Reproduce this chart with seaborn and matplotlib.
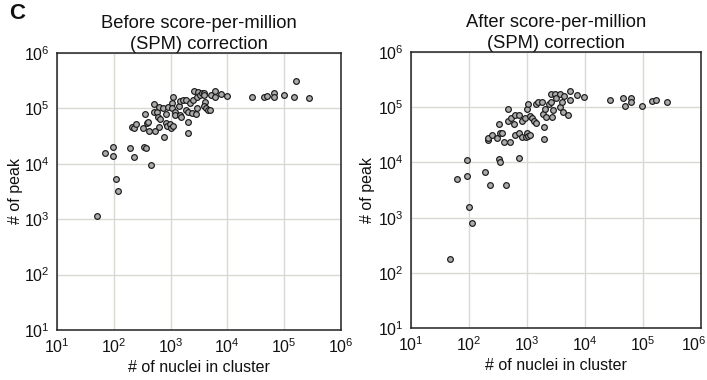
import matplotlib
matplotlib.use("Agg")
import matplotlib.pyplot as plt
from matplotlib.transforms import ScaledTranslation
import seaborn as sns
import pandas as pd

# ---------------- data ----------------
before_nuclei = [50, 108, 119, 69, 98, 98, 190, 229, 339, 363, 447, 209, 224, 251, 324,
                 380, 398, 355, 417, 501, 525, 501, 575, 631, 631, 776, 741, 589, 646,
                 832, 832, 871, 977, 1023, 1122, 912, 1072, 1122, 1072, 1202, 1175, 1380,
                 1479, 1514, 1479, 1622, 1905, 1995, 1995, 1862, 2042, 2239, 2344, 2630,
                 2512, 2818, 2884, 2951, 3090, 3311, 3548, 3802, 3890, 4074, 3890, 4169,
                 4467, 5012, 5129, 6026, 6026, 7586, 9772, 27540, 43650, 48980, 66070,
                 66070, 100000, 147900, 162200, 275400]
before_peaks = [1120, 5400, 3160, 15800, 20000, 13600, 19300, 13200, 20400, 19100, 9660,
                45700, 44200, 51300, 44200, 55000, 57500, 79400, 39800, 117500, 39800,
                87100, 87100, 45700, 104700, 30200, 100000, 69200, 63100, 77600, 53700,
                49000, 51300, 44700, 49000, 107200, 123000, 158500, 100000, 87100, 75900,
                112200, 75900, 69200, 138000, 144500, 141300, 57500, 36300, 93300, 87100,
                123000, 81300, 204200, 141300, 77600, 100000, 162200, 195000, 173800,
                186200, 190500, 177800, 131800, 112200, 100000, 93300, 93300, 177800,
                204200, 162200, 182000, 169800, 158500, 158500, 166000, 186200, 158500,
                177800, 158500, 316200, 151400]

after_nuclei = [48, 102, 112, 63, 93, 93, 190, 229, 437, 331, 347, 724, 209, 209, 245,
                302, 339, 372, 398, 501, 331, 479, 479, 537, 603, 617, 631, 724, 724,
                832, 832, 912, 977, 1023, 1047, 1122, 1023, 1047, 1148, 1230, 1318, 1413,
                1413, 1549, 1820, 1905, 1950, 1950, 2089, 2138, 2399, 2570, 2570, 2754,
                2818, 3090, 3236, 3715, 3715, 4074, 4169, 4365, 5012, 5623, 5623, 7244,
                9550, 26900, 44670, 48980, 61660, 61660, 97720, 144500, 166000, 263000]
after_peaks = [178, 1585, 794, 5010, 5750, 11200, 6760, 3890, 3890, 11750, 10000, 12300,
               25700, 27500, 30900, 27500, 33900, 33900, 23400, 23400, 49000, 93300,
               57500, 63100, 50100, 72400, 30900, 72400, 34700, 57500, 29500, 63100,
               29500, 34700, 30200, 30900, 93300, 114800, 70800, 63100, 57500, 51300,
               114800, 123000, 123000, 75900, 44700, 26900, 93300, 66100, 114800, 177800,
               123000, 66100, 91200, 177800, 144500, 177800, 100000, 125900, 81300,
               158500, 72400, 195000, 138000, 169800, 151400, 138000, 144500, 107200,
               147900, 123000, 107200, 131800, 138000, 125900]

titles = ["Before score-per-million\n(SPM) correction",
          "After score-per-million\n(SPM) correction"]
x_label = "# of nuclei in cluster"
y_label = "# of peak"
tick_values = [1e1, 1e2, 1e3, 1e4, 1e5, 1e6]
tick_labels = ["$10^{1}$", "$10^{2}$", "$10^{3}$", "$10^{4}$", "$10^{5}$", "$10^{6}$"]
panel_letter = "C"

# ---------------- style ----------------
sns.set_style("white")
plt.rcParams["font.family"] = ["Liberation Sans", "DejaVu Sans"]
plt.rcParams["mathtext.fontset"] = "custom"
plt.rcParams["mathtext.rm"] = "Liberation Sans"
plt.rcParams["mathtext.it"] = "Liberation Sans:italic"
plt.rcParams["mathtext.bf"] = "Liberation Sans:bold"
for key in ["text.color", "axes.labelcolor", "xtick.color", "ytick.color"]:
    plt.rcParams[key] = "#111111"

fig = plt.figure(figsize=(7.07, 3.8), dpi=100)
ax_l = fig.add_axes([0.0806, 0.1316, 0.4017, 0.729])
ax_r = fig.add_axes([0.5813, 0.1368, 0.410, 0.726])

frames = [pd.DataFrame({"nuclei": before_nuclei, "peaks": before_peaks}),
          pd.DataFrame({"nuclei": after_nuclei, "peaks": after_peaks})]

for ax, df, title, ylx in zip([ax_l, ax_r], frames, titles, [-0.12, -0.125]):
    ax.set_xscale("log")
    ax.set_yscale("log")
    sns.scatterplot(data=df, x="nuclei", y="peaks", ax=ax, s=17,
                    color="#ababab", edgecolor="#1a1a1a", linewidth=0.85,
                    zorder=3)
    ax.set_xlim(tick_values[0], tick_values[-1])
    ax.set_ylim(tick_values[0], tick_values[-1])
    ax.set_xticks(tick_values)
    ax.set_xticklabels(tick_labels)
    ax.set_yticks(tick_values)
    ax.set_yticklabels(tick_labels)
    ax.minorticks_off()
    ax.tick_params(axis="both", which="both", length=0, pad=5, labelsize=11.5)
    ax.grid(True, which="major", color="#d9d9d4", linewidth=1.0, zorder=0)
    ax.set_axisbelow(True)
    for side, sp in ax.spines.items():
        sp.set_visible(True)
        sp.set_color("#222222")
        sp.set_linewidth(1.1)
    ax.set_xlabel(x_label, fontsize=11.5, labelpad=3)
    ax.set_ylabel(y_label, fontsize=11.5)
    ax.yaxis.set_label_coords(ylx, 0.5)
    ax.set_title(title, fontsize=13.2, pad=3, linespacing=1.3)

# keep the right-most tick label of the right panel inside the figure
last = ax_r.get_xticklabels()[-1]
last.set_transform(last.get_transform() + ScaledTranslation(-0.07, 0, fig.dpi_scale_trans))

fig.text(0.013, 0.993, panel_letter, fontsize=16, fontweight="bold",
         ha="left", va="top")

fig.savefig("out.png", dpi=100)
